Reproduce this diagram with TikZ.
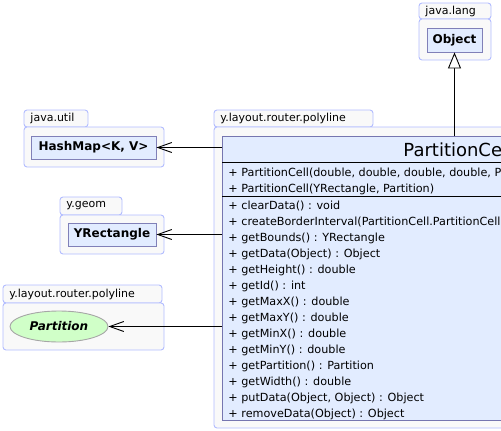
\documentclass[tikz,border=0pt]{standalone}
\usepackage{fontspec}
\setmainfont{DejaVu Sans}
\usetikzlibrary{arrows.meta, positioning, shapes.geometric}
\definecolor{pkgline}{RGB}{178,188,255}
\definecolor{pkgfill}{RGB}{249,249,249}
\definecolor{boxline}{RGB}{128,128,184}
\definecolor{boxfill}{RGB}{226,236,255}
\definecolor{classline}{RGB}{118,118,176}
\definecolor{ifcfill}{RGB}{208,255,200}

\begin{document}
\begin{tikzpicture}[
    x=1pt, y=-1pt,
    line width=0.9pt,
    pkg/.style={draw=pkgline, fill=pkgfill, rounded corners=3pt},
    pkglabel/.style={anchor=west, inner sep=0pt, font=\fontsize{11}{13}\selectfont},
    typebox/.style={
        draw=boxline,
        fill=boxfill,
        inner sep=0pt,
        font=\fontsize{12}{14}\selectfont\bfseries
    },
    members/.style={anchor=north west, inner sep=0pt, align=left,
        font=\fontsize{11.2}{16}\selectfont},
    dep/.style={-{Straight Barb[length=14pt, width=10pt]}},
    inherit/.style={-{Triangle[open, length=16pt, width=13pt, fill=white]}}
]
\useasboundingbox (0,0) rectangle (501,431);
\clip (0,0) rectangle (501,431);

% --- packages ---
\draw[pkg] (419,3) rectangle (491,19);
\draw[pkg] (419,19) rectangle (491,60);
\node[pkglabel] (langlabel) at (425,11) {java.lang};

\draw[pkg] (24,110) rectangle (88,127);
\draw[pkg] (24,127) rectangle (164,167);
\node[pkglabel] (utillabel) at (30,118.5) {java.util};

\draw[pkg] (214,110) rectangle (373,127);
\draw[pkg] (214,127) rectangle (720,428);
\node[pkglabel] (mainlabel) at (220,118.5) {y.layout.router.polyline};

\draw[pkg] (60,197) rectangle (122,215);
\draw[pkg] (60,215) rectangle (164,254);
\node[pkglabel] (geomlabel) at (66,206) {y.geom};

\draw[pkg] (3,285) rectangle (162,303);
\draw[pkg] (3,303) rectangle (164,350);
\node[pkglabel] (polylabel) at (9,294) {y.layout.router.polyline};

% --- types ---
\node[typebox, minimum width=55pt, minimum height=24pt] (object) at (454.5,40) {Object};
\node[typebox, minimum width=125pt, minimum height=23pt] (hashmap) at (93.5,147.5) {HashMap<K, V>};
\node[typebox, minimum width=88pt, minimum height=23pt] (yrect) at (112,234.5) {YRectangle};
\node[ellipse, draw=gray!70, fill=ifcfill, minimum width=98pt, minimum height=31pt,
    inner sep=0pt, font=\fontsize{12}{14}\selectfont\bfseries\itshape] (partition) at (59,326.5) {Partition};

% --- PartitionCell ---
\node[draw=classline, fill=boxfill, anchor=north west, minimum width=478pt,
    minimum height=284pt, inner sep=0pt] (cell) at (222,136) {};
\node[anchor=west, inner sep=0pt, font=\fontsize{18}{20}\selectfont] (cellname) at (403,149.5) {PartitionCell};
\draw (222,162) -- (700,162);
\draw (222,196) -- (700,196);
\node[members] (ctors) at (228,168) {+ PartitionCell(double, double, double, double, Partition)\\
+ PartitionCell(YRectangle, Partition)};
\node[members] (methods) at (228,200.5) {+ clearData() : void\\
+ createBorderInterval(PartitionCell.PartitionCellBorder) : Interval\\
+ getBounds() : YRectangle\\
+ getData(Object) : Object\\
+ getHeight() : double\\
+ getId() : int\\
+ getMaxX() : double\\
+ getMaxY() : double\\
+ getMinX() : double\\
+ getMinY() : double\\
+ getPartition() : Partition\\
+ getWidth() : double\\
+ putData(Object, Object) : Object\\
+ removeData(Object) : Object};

% --- arrows ---
\draw[inherit] (cell.north -| object.south) -- (object.south);
\draw[dep] (cell.west |- hashmap.east) -- (hashmap.east);
\draw[dep] (cell.west |- yrect.east) -- (yrect.east);
\draw[dep] (cell.west |- partition.east) -- (partition.east);

\end{tikzpicture}
\end{document}
